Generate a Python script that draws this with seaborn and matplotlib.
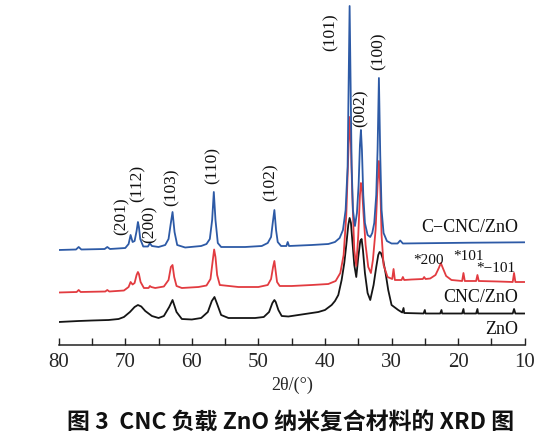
import numpy as np
import pandas as pd
import matplotlib
matplotlib.use("Agg")
import matplotlib.pyplot as plt
import seaborn as sns

# ---- data (2theta in degrees, intensity in arbitrary units incl. stacking offset) ----
zno_x = [10, 11.4, 11.6, 11.8, 14, 17.0, 17.1, 17.3, 19.1, 19.2, 19.4, 22.4, 22.5, 22.7, 24.9, 25.0, 25.2,
         28.1, 28.2, 28.4, 29.0, 29.6, 30.0, 30.5, 30.9, 31.3, 31.6, 31.8, 32.0, 32.3, 32.7, 33.2,
         33.6, 34.0, 34.3, 34.5, 34.7, 35.0, 35.3, 35.6, 35.9, 36.1, 36.3, 36.5, 36.8, 37.1, 37.5,
         38.0, 38.5, 39.0, 40.0, 41.0, 42.0, 44.0, 45.5, 46.5, 47.0, 47.4, 47.6, 47.9, 48.4, 49.2,
         50.5, 52.0, 54.5, 55.6, 56.2, 56.6, 57.0, 57.6, 58.6, 60.0, 61.5, 62.3, 62.9, 63.4, 64.2,
         65.0, 66.0, 67.0, 67.6, 68.1, 68.6, 69.3, 70.2, 71.0, 72.5, 75.0, 77.0, 80.0]
zno_y = [31.5, 31.5, 36, 31.5, 31.5, 31.5, 36, 31.5, 31.5, 36, 31.5, 31.5, 35, 31.5, 31.5, 35, 31.5,
         32, 37, 32.5, 35, 38, 40, 55, 72, 86, 92, 93, 90, 78, 60, 45,
         52, 72, 95, 106, 104, 88, 68, 80, 105, 122, 127, 120, 100, 82, 65,
         50, 44, 40, 35, 33, 32, 30, 28.5, 29, 35, 43, 45, 42, 33, 28,
         27, 27, 27, 30, 41, 48, 44, 33, 27, 25.5, 26, 33, 45, 38, 29,
         27, 29, 34, 38.5, 40, 38, 33, 28, 26, 25, 24.5, 24, 23]

cnc_x = [10, 11.4, 11.6, 11.8, 14, 16.9, 17.1, 17.3, 19.0, 19.2, 19.4, 21.0, 21.8, 22.3, 22.6, 22.9,
         23.4, 24.2, 24.9, 25.1, 25.3, 27.0, 28.1, 28.3, 28.5, 29.5, 29.7, 29.9, 30.6, 31.2, 31.5,
         31.7, 31.9, 32.1, 32.4, 32.8, 33.1, 33.5, 33.9, 34.2, 34.45, 34.6, 34.75, 35.0, 35.3, 35.6,
         35.9, 36.1, 36.3, 36.5, 36.8, 37.2, 37.7, 38.4, 39.5, 42.0, 45.0, 46.8, 47.2, 47.45, 47.6,
         47.8, 48.1, 48.6, 50.0, 53.0, 55.8, 56.2, 56.45, 56.65, 56.85, 57.2, 57.8, 59.0, 61.5,
         62.3, 62.65, 62.9, 63.15, 63.5, 64.2, 65.5, 66.1, 66.3, 66.5, 67.2, 67.7, 67.95, 68.1,
         68.3, 68.6, 68.9, 69.2, 69.5, 70.2, 72.4, 72.7, 73.0, 76.7, 77.0, 77.3, 80.0]
cnc_y = [63, 63, 72, 63, 63.5, 64, 70, 64, 64, 72, 64, 65, 69, 77, 82, 77,
         70, 66.5, 66, 68, 66, 65.5, 65, 68, 65, 65, 76, 66, 68, 80, 110,
         160, 184, 160, 115, 85, 72, 78, 100, 130, 158, 162, 150, 110, 79, 95,
         150, 200, 228, 190, 130, 90, 72, 64, 61, 60, 59, 59, 63, 76, 84,
         78, 66, 60, 58, 58, 60, 70, 88, 95.5, 85, 66, 59.5, 58, 57,
         59, 68, 80, 78, 65, 58.5, 57, 58, 59, 57, 57, 63, 71, 73,
         70, 62, 60.5, 63, 58, 54.5, 53.5, 55, 53.5, 53, 55, 53, 52.5]

ccnc_x = [10, 14, 18, 22, 26, 28.3, 28.7, 29.1, 30.0, 30.7, 31.2, 31.5, 31.7, 31.9, 32.1, 32.3,
          32.6, 32.9, 33.2, 33.6, 34.0, 34.25, 34.45, 34.6, 34.75, 34.95, 35.2, 35.5, 35.8, 36.0,
          36.15, 36.3, 36.45, 36.6, 36.9, 37.3, 37.8, 38.5, 39.5, 42.0, 45.4, 45.6, 45.8, 46.6,
          47.1, 47.35, 47.6, 47.85, 48.1, 48.6, 49.5, 52.0, 55.6, 56.1, 56.45, 56.7, 56.95, 57.3,
          57.8, 58.6, 61.0, 62.2, 62.6, 62.9, 63.2, 63.5, 64.0, 65.0, 66.0, 66.3, 66.6, 67.3,
          67.75, 67.95, 68.1, 68.3, 68.6, 68.9, 69.2, 69.5, 70.0, 72.3, 72.7, 73.1, 76.6, 77.0,
          77.4, 80.0]
ccnc_y = [102.7, 102.5, 102.3, 102, 101.7, 101.5, 104.5, 101.5, 101.5, 104, 112, 135, 190, 267, 195, 150,
          122, 112, 108, 110, 122, 150, 195, 215, 200, 160, 132, 119, 135, 180,
          260, 339, 260, 178, 135, 115, 107, 103, 101, 100, 99, 103, 99, 99,
          103, 115, 135, 122, 108, 102, 99, 98, 98, 102, 125, 153, 125, 106,
          101, 99, 97.5, 100, 113, 133, 120, 106, 100, 98, 99, 101.7, 98.5, 98.5,
          106, 118, 123, 114, 104, 103, 110, 101, 97, 96, 98, 96, 95.5, 98,
          95.5, 95]

series_names = ["ZnO", "CNC/ZnO", "C\u2212CNC/ZnO"]
series_colors = ["#151515", "#e23b40", "#2d5aa6"]

peak_labels = ["(101)", "(100)", "(002)", "(102)", "(110)", "(103)", "(112)", "(200)", "(201)"]
peak_label_x = [39.1, 31.9, 34.6, 48.2, 56.9, 63.1, 68.2, 66.4, 70.6]
peak_label_y = [313, 294, 237, 163, 180, 158, 162, 121, 129]

cell_labels = ["*200", "*101", "*\u2212101"]
cell_label_x = [24.4, 18.4, 14.3]
cell_label_y = [85, 88, 77]

name_label_y = [15, 48, 118]

xticks = [80, 70, 60, 50, 40, 30, 20, 10]

# ---- build long table ----
frames = []
for name, xs, ys in zip(series_names, [zno_x, cnc_x, ccnc_x], [zno_y, cnc_y, ccnc_y]):
    frames.append(pd.DataFrame({"two_theta": xs, "intensity": ys, "sample": name}))
df = pd.concat(frames, ignore_index=True)

sns.set_theme(style="white")
plt.rcParams["font.family"] = ["Liberation Serif", "DejaVu Serif"]
plt.rcParams["mathtext.fontset"] = "stix"

fig = plt.figure(figsize=(5.58, 4.40), dpi=100)
ax = fig.add_axes([58.7 / 558, 1 - 345 / 440, (524.7 - 58.7) / 558, 345 / 440])

sns.lineplot(data=df, x="two_theta", y="intensity", hue="sample", hue_order=series_names,
             palette=series_colors, estimator=None, sort=False, linewidth=1.3, legend=False, ax=ax)

ax.set_xlim(80, 10)
ax.set_ylim(0, 345)
ax.set_xticks(xticks)
ax.set_xticks(np.arange(75, 10, -10), minor=True)
ax.set_xticklabels([str(t) for t in xticks], fontsize=15)
ax.set_yticks([])
ax.set_ylabel("")
ax.set_xlabel("2\u03b8/(\u00b0)", fontsize=13, labelpad=3)
for s in ["left", "right", "top"]:
    ax.spines[s].set_visible(False)
ax.spines["bottom"].set_color("#222222")
ax.spines["bottom"].set_linewidth(1.1)
ax.tick_params(axis="x", which="both", direction="in", length=5, width=1.0, color="#222222", pad=6,
               bottom=True)
ax.patch.set_alpha(0)

for lab, x, y in zip(peak_labels, peak_label_x, peak_label_y):
    ax.text(x, y, lab, rotation=90, ha="center", va="center", fontsize=12.5, color="#111111")
for lab, x, y in zip(cell_labels, cell_label_x, cell_label_y):
    ax.text(x, y, lab, ha="center", va="center", fontsize=11, color="#111111")
for lab, y in zip(series_names, name_label_y):
    ax.text(11.0, y, lab, ha="right", va="center", fontsize=13, color="#111111")

fig.text(291 / 558, 1 - 423 / 440, "图 3  CNC 负载 ZnO 纳米复合材料的 XRD 图",
         ha="center", va="center", fontsize=16.5, fontweight="bold",
         family=["Noto Sans CJK SC", "DejaVu Sans"], color="#111111")

fig.savefig("out.png", dpi=100)
